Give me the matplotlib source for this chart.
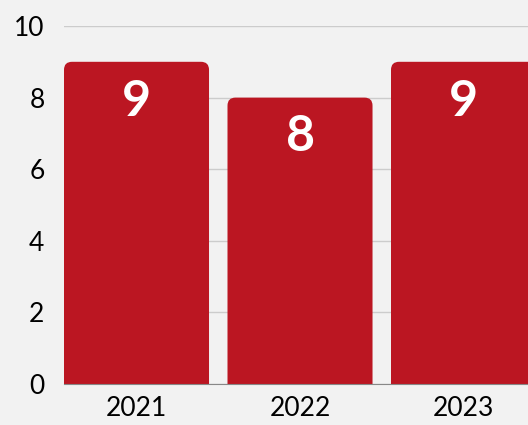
import matplotlib
matplotlib.use('Agg')
import matplotlib.pyplot as plt
from matplotlib.patches import FancyBboxPatch

years = ['2021', '2022', '2023']
values = [9, 8, 9]

bar_color = '#bb1622'
bg = '#f2f2f2'

plt.rcParams['font.family'] = ['Lato', 'DejaVu Sans']

fig = plt.figure(figsize=(5.28, 4.25), dpi=100, facecolor=bg)
# axes runs past the right edge, so the last bar gets clipped like the reference
px_x = 163.5
px_y = 35.8
ax = fig.add_axes([64 / 528, 41 / 425, 2.887 * px_x / 528, 358 / 425], facecolor=bg)

bars = ax.bar(range(len(years)), values, width=0.887, color=bar_color, zorder=2)

ax.set_xlim(-0.4435, len(years) - 0.5565)
ax.set_ylim(0, 10)

# rounded top corners; bottom pushed below 0 so the axes clip squares it off
r = 8 / px_x
for b in bars:
    x0, w, h = b.get_x(), b.get_width(), b.get_height()
    b.set_visible(False)
    ax.add_patch(FancyBboxPatch((x0, -1), w, h + 1,
                                boxstyle='round,pad=0,rounding_size=%f' % r,
                                mutation_aspect=px_x / px_y,
                                fc=bar_color, ec='none', zorder=2))
    ax.text(x0 + w / 2, h - 1.1, str(int(h)), ha='center', va='center',
            color='white', fontsize=36, fontweight='bold', zorder=3)

ax.set_yticks(range(0, 11, 2))
ax.set_xticks(range(len(years)))
ax.set_xticklabels(years)
ax.tick_params(axis='both', length=0, labelsize=19)
ax.tick_params(axis='y', pad=14)
ax.tick_params(axis='x', pad=9)
ax.grid(axis='y', color='#cccccc', linewidth=1, zorder=0)
ax.set_axisbelow(True)

for s in ['top', 'right', 'left']:
    ax.spines[s].set_visible(False)
ax.spines['bottom'].set_color('#888888')
ax.spines['bottom'].set_zorder(3)

fig.savefig('out.png', dpi=100, facecolor=bg)
